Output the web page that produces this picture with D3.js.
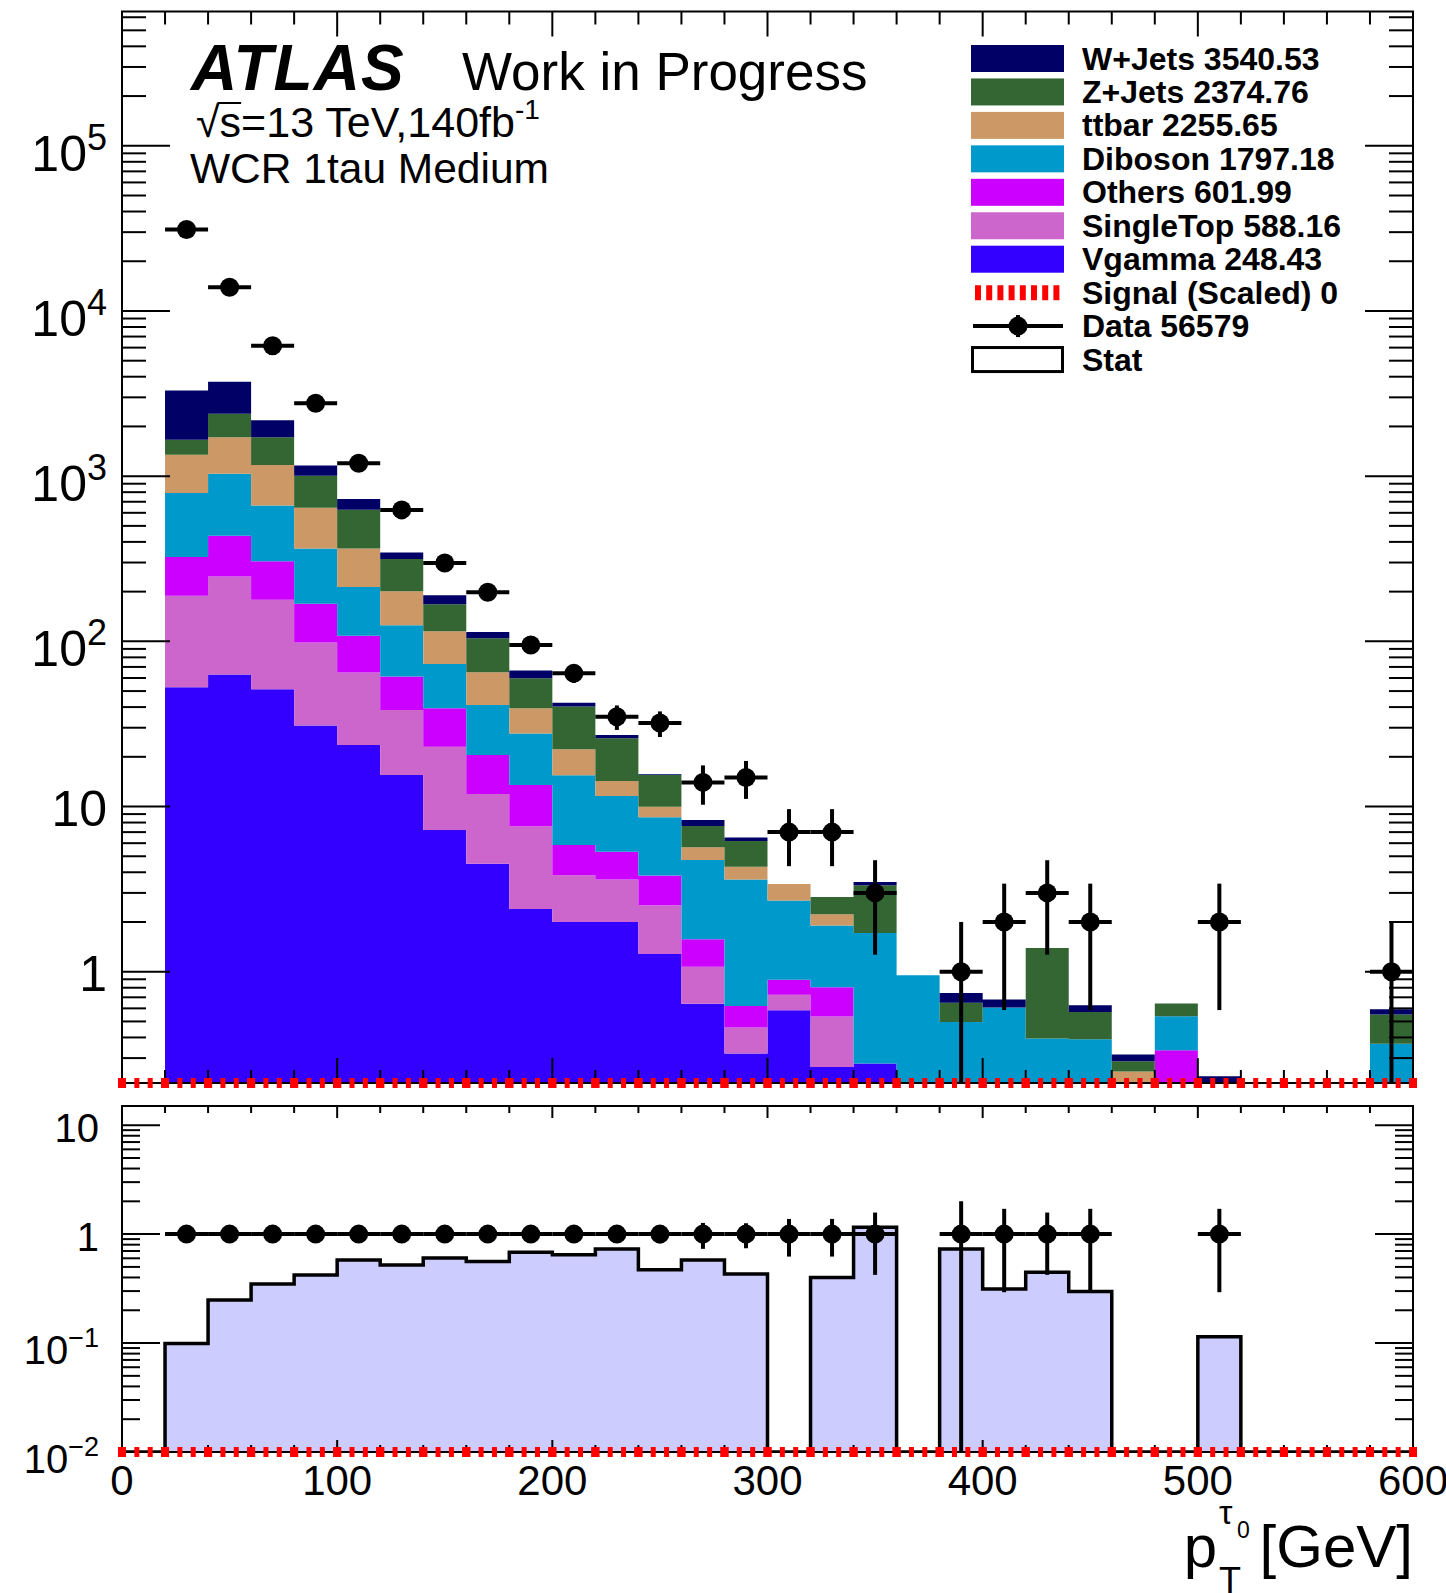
<!DOCTYPE html>
<html>
<head>
<meta charset="utf-8">
<script src="https://cdn.jsdelivr.net/npm/d3@7"></script>
<style>
  html, body { margin: 0; padding: 0; background: #ffffff; }
  svg { display: block; }
  text { font-family: "Liberation Sans", Arial, Helvetica, sans-serif; fill: #000; }
</style>
</head>
<body>
<svg id="plot" width="1446" height="1593"></svg>
<script>
// ---- binning: 20 GeV bins of tau pT, lower edges ----
const binLow = [0, 20, 40, 60, 80, 100, 120, 140, 160, 180, 200, 220, 240, 260, 280,
                300, 320, 340, 360, 380, 400, 420, 440, 460, 480, 500, 520, 540, 560, 580];
const binWidth = 20;

// ---- background yields per bin (events) ----
const vgamma    = [0, 52.8, 62.9, 51.3, 30.9, 23.6, 15.5, 7.2, 4.5, 2.4, 2.0, 2.0, 1.28, 0.64, 0.32,
                   0.585, 0.265, 0.278, 0, 0, 0, 0, 0, 0, 0, 0, 0, 0, 0, 0];
const singleTop = [0, 136, 184, 127, 67.5, 41.1, 22.9, 15.8, 7.4, 5.2, 1.84, 1.62, 1.25, 0.43, 0.14,
                   0.14, 0.27, 0, 0, 0, 0, 0, 0, 0, 0, 0, 0, 0, 0, 0];
const others    = [0, 135, 189, 127, 70.6, 43.3, 22.8, 16.4, 8.6, 5.9, 2.0, 1.7, 1.3, 0.5, 0.16,
                   0.17, 0.27, 0, 0, 0, 0, 0, 0, 0, 0.335, 0, 0, 0, 0, 0];
const diboson   = [0, 467, 599, 359, 196, 105, 63.8, 33.6, 20.7, 14.2, 9.65, 6.27, 4.77, 3.17, 3.0,
                   1.8, 1.1, 1.44, 0.952, 0.497, 0.607, 0.394, 0.39, 0, 0.203, 0, 0, 0, 0, 0.367];
const ttbar     = [0, 559, 684, 504, 279, 152, 76, 42, 23.8, 11.6, 6.7, 2.7, 1.37, 0.92, 0.7,
                   0.7, 0.32, 0, 0, 0, 0, 0, 0, 0.249, 0, 0, 0, 0, 0, 0];
const zjets     = [0, 314, 664, 550, 363, 262, 114, 53, 39.5, 20.5, 18.1, 11.6, 5.53, 1.96, 1.86,
                   0, 0.61, 1.62, 0, 0.151, 0, 1.0, 0.181, 0.038, 0.103, 0, 0, 0, 0, 0.183];
const wjets     = [0, 1633, 1341, 460, 155, 100, 30, 22, 9.5, 6.7, 2.2, 1.2, 0.2, 0.66, 0.32,
                   0, 0, 0.16, 0, 0.096, 0.071, 0, 0.056, 0.028, 0, 0.233, 0, 0, 0, 0.043];
const signal    = [0, 0, 0, 0, 0, 0, 0, 0, 0, 0, 0, 0, 0, 0, 0,
                   0, 0, 0, 0, 0, 0, 0, 0, 0, 0, 0, 0, 0, 0, 0];

// ---- observed events per bin ----
const dataCounts = [0, 31150, 13914, 6155, 2760, 1196, 625, 298, 198, 95, 64, 35, 32, 14, 15,
                    7, 7, 3, 0, 1, 2, 3, 2, 0, 0, 2, 0, 0, 0, 1];

// ---- lower panel: prediction / data and data / data ----
const ratioMC   = [null, 0.099, 0.248, 0.348, 0.421, 0.578, 0.520, 0.604, 0.562, 0.68, 0.648, 0.731, 0.471, 0.578, 0.430,
                   null, 0.40, 1.155, null, 0.73, 0.313, 0.446, 0.298, null, null, 0.114, null, null, null, null];
const ratioData = [null, 1, 1, 1, 1, 1, 1, 1, 1, 1, 1, 1, 1, 1, 1,
                   1, 1, 1, null, 1, 1, 1, 1, null, null, 1, null, null, null, null];

// ---- axis tick labels ----
const xTickLabels = [0, 100, 200, 300, 400, 500, 600];
const mainYLabels = [{v: 1, base: "1", exp: null}, {v: 10, base: "10", exp: null},
                     {v: 1e2, base: "10", exp: "2"}, {v: 1e3, base: "10", exp: "3"},
                     {v: 1e4, base: "10", exp: "4"}, {v: 1e5, base: "10", exp: "5"}];
const ratioYLabels = [{v: 10, base: "10", exp: null}, {v: 1, base: "1", exp: null},
                      {v: 0.1, base: "10", exp: "\u22121"}, {v: 0.01, base: "10", exp: "\u22122"}];

// ---- legend entries (top to bottom) ----
const stackKeys = ["Vgamma", "SingleTop", "Others", "Diboson", "ttbar", "Z+Jets", "W+Jets"];
const sampleValues = {"Vgamma": vgamma, "SingleTop": singleTop, "Others": others, "Diboson": diboson,
                      "ttbar": ttbar, "Z+Jets": zjets, "W+Jets": wjets};
const legendTexts = ["W+Jets 3540.53", "Z+Jets 2374.76", "ttbar 2255.65", "Diboson 1797.18",
                     "Others 601.99", "SingleTop 588.16", "Vgamma 248.43", "Signal (Scaled) 0",
                     "Data 56579", "Stat"];
const legendKeys = ["W+Jets", "Z+Jets", "ttbar", "Diboson", "Others", "SingleTop", "Vgamma", "signal", "data", "stat"];

// ---- styles ----
const colors = {
  "W+Jets": "#000066", "Z+Jets": "#336633", "ttbar": "#cc9966", "Diboson": "#0099cc",
  "Others": "#cc00ff", "SingleTop": "#cc66cc", "Vgamma": "#3300ff"
};
const ratioFill = "#ccccff";
const signalColor = "#ff0000";

// ---- layout ----
const frameL = 122, frameR = 1413;
const mainTop = 11.5, mainBot = 1083;
const ratTop = 1106, ratBot = 1452;

const svg = d3.select("#plot");

const x = d3.scaleLinear().domain([0, 600]).range([frameL, frameR]);
const yMain = d3.scaleLog().domain([0.212, 6.5e5]).range([mainBot, mainTop]);
const yRat = d3.scaleLog().domain([0.01, 15]).range([ratBot, ratTop]);

function ySafe(scale, v) {
  const d0 = scale.domain()[0];
  return (v == null || v <= d0) ? scale.range()[0] : scale(v);
}

const defs = svg.append("defs");
defs.append("clipPath").attr("id", "clipMain").append("rect")
  .attr("x", frameL).attr("y", mainTop).attr("width", frameR - frameL).attr("height", mainBot - mainTop);
defs.append("clipPath").attr("id", "clipRat").append("rect")
  .attr("x", frameL).attr("y", ratTop).attr("width", frameR - frameL).attr("height", ratBot - ratTop);

// step-shaped area through all bins (one path, no seams between bins)
const stepArea = d3.area().x(d => d.x).y0(d => d.y0).y1(d => d.y1);
function stepPoints(lows, lowerFn, upperFn) {
  const pts = [];
  lows.forEach((lo, i) => {
    const y0 = lowerFn(i), y1 = Math.min(upperFn(i), y0);
    pts.push({x: x(lo), y0: y0, y1: y1});
    pts.push({x: x(lo + binWidth), y0: y0, y1: y1});
  });
  return pts;
}

// ================= main panel: stacked backgrounds =================
const rows = binLow.map((lo, i) => {
  const r = {lo: lo};
  stackKeys.forEach(k => { r[k] = sampleValues[k][i]; });
  return r;
});
const stacked = d3.stack().keys(stackKeys)(rows);

const gStack = svg.append("g").attr("clip-path", "url(#clipMain)");
stacked.forEach(layer => {
  const pts = stepPoints(binLow,
    i => ySafe(yMain, layer[i][0]),
    i => ySafe(yMain, layer[i][1]));
  gStack.append("path")
    .attr("d", stepArea(pts))
    .attr("fill", colors[layer.key]);
});

// ================= lower panel: ratio histogram =================
const gRat = svg.append("g").attr("clip-path", "url(#clipRat)");
gRat.append("path")
  .attr("d", stepArea(stepPoints(binLow, i => ratBot, i => ySafe(yRat, ratioMC[i]))))
  .attr("fill", ratioFill);

// outline as a step line over the full axis range
const stepPts = [[x(0), ratBot]];
binLow.forEach((lo, i) => {
  const yy = ySafe(yRat, ratioMC[i]);
  stepPts.push([x(lo), yy]);
  stepPts.push([x(lo + binWidth), yy]);
});
stepPts.push([x(600), ratBot]);
gRat.append("path")
  .attr("d", d3.line()(stepPts))
  .attr("fill", "none").attr("stroke", "#000").attr("stroke-width", 3.5)
  .attr("stroke-linejoin", "miter");

// ================= frames and axes =================
function frame(top, bot) {
  svg.append("rect").attr("x", frameL).attr("y", top)
    .attr("width", frameR - frameL).attr("height", bot - top)
    .attr("fill", "none").attr("stroke", "#000").attr("stroke-width", 2);
}
frame(mainTop, mainBot);
frame(ratTop, ratBot);

function xTicks(top, bot, majLen, minLen) {
  const g = svg.append("g").attr("stroke", "#000").attr("stroke-width", 2);
  d3.range(0, 601, 20).forEach(t => {
    const len = (t % 100 === 0) ? majLen : minLen;
    const px = x(t);
    g.append("line").attr("x1", px).attr("x2", px).attr("y1", top).attr("y2", top + len);
    g.append("line").attr("x1", px).attr("x2", px).attr("y1", bot).attr("y2", bot - len);
  });
}
xTicks(mainTop, mainBot, 25, 13);
xTicks(ratTop, ratBot, 12, 7);

function yTicks(scale, majLen, minLen) {
  const g = svg.append("g").attr("stroke", "#000").attr("stroke-width", 2);
  scale.ticks().forEach(t => {
    const lg = Math.log10(t);
    const major = Math.abs(lg - Math.round(lg)) < 1e-6;
    const len = major ? majLen : minLen;
    const py = scale(t);
    g.append("line").attr("x1", frameL).attr("x2", frameL + len).attr("y1", py).attr("y2", py);
    g.append("line").attr("x1", frameR).attr("x2", frameR - len).attr("y1", py).attr("y2", py);
  });
}
yTicks(yMain, 48, 24);
yTicks(yRat, 38, 18);

function yLabels(list, scale, xr, size, supSize, supDy, offPlain, offExp) {
  list.forEach(L => {
    const t = svg.append("text")
      .attr("x", xr)
      .attr("y", scale(L.v) + (L.exp ? offExp : offPlain))
      .attr("text-anchor", "end")
      .attr("font-size", size)
      .text(L.base);
    if (L.exp) {
      t.append("tspan").attr("font-size", supSize).attr("dy", supDy).text(L.exp);
    }
  });
}
yLabels(mainYLabels, yMain, 107, 50, 36, -21, 19, 25);
yLabels(ratioYLabels, yRat, 99, 40, 27, -17, 17, 21);

svg.append("g").selectAll("text")
  .data(xTickLabels).join("text")
  .attr("x", d => x(d)).attr("y", 1495)
  .attr("text-anchor", "middle").attr("font-size", 42)
  .text(d => d);

// ================= signal (scaled), drawn at zero =================
function signalLine(scale) {
  const g = svg.append("g");
  binLow.forEach((lo, i) => {
    const x0 = x(lo), x1 = x(lo + binWidth), w = x1 - x0;
    const gap = (w - 18) / 3;
    g.append("line")
      .attr("x1", x0 - 4).attr("x2", x1 + 4)
      .attr("y1", ySafe(scale, signal[i])).attr("y2", ySafe(scale, signal[i]))
      .attr("stroke", signalColor).attr("stroke-width", 10)
      .attr("stroke-dasharray", `8 ${gap} 5 ${gap} 5 ${gap} 8 1000`);
  });
}
signalLine(yMain);
signalLine(yRat);

// ================= data points =================
function drawPoints(scale, clipId, pts) {
  const g = svg.append("g").attr("clip-path", `url(#${clipId})`);
  pts.forEach(p => {
    const cx = x(p.lo + binWidth / 2);
    g.append("line").attr("x1", x(p.lo)).attr("x2", x(p.lo + binWidth))
      .attr("y1", scale(p.v)).attr("y2", scale(p.v))
      .attr("stroke", "#000").attr("stroke-width", 4);
    g.append("line").attr("x1", cx).attr("x2", cx)
      .attr("y1", scale(p.v + p.e)).attr("y2", ySafe(scale, p.v - p.e))
      .attr("stroke", "#000").attr("stroke-width", 4);
    g.append("circle").attr("cx", cx).attr("cy", scale(p.v)).attr("r", 9.5).attr("fill", "#000");
  });
}
drawPoints(yMain, "clipMain",
  binLow.map((lo, i) => ({lo: lo, v: dataCounts[i], e: Math.sqrt(dataCounts[i])}))
        .filter(p => p.v > 0));
drawPoints(yRat, "clipRat",
  binLow.map((lo, i) => ({lo: lo, v: ratioData[i], e: dataCounts[i] > 0 ? 1 / Math.sqrt(dataCounts[i]) : 0}))
        .filter(p => p.v != null));

// ================= legend =================
const legX0 = 971, legX1 = 1064, legTextX = 1082;
legendKeys.forEach((k, i) => {
  const cy = 58.5 + i * 33.45;
  if (colors[k]) {
    svg.append("rect").attr("x", legX0).attr("y", cy - 13.5)
      .attr("width", legX1 - legX0).attr("height", 27).attr("fill", colors[k]);
  } else if (k === "signal") {
    svg.append("line").attr("x1", legX0 + 4).attr("x2", legX1).attr("y1", cy).attr("y2", cy)
      .attr("stroke", signalColor).attr("stroke-width", 15).attr("stroke-dasharray", "6 5.2");
  } else if (k === "data") {
    svg.append("line").attr("x1", legX0 + 2).attr("x2", legX1 - 1).attr("y1", cy).attr("y2", cy)
      .attr("stroke", "#000").attr("stroke-width", 4);
    svg.append("line").attr("x1", 1018).attr("x2", 1018).attr("y1", cy - 11).attr("y2", cy + 11)
      .attr("stroke", "#000").attr("stroke-width", 4);
    svg.append("circle").attr("cx", 1018).attr("cy", cy).attr("r", 9.5).attr("fill", "#000");
  } else if (k === "stat") {
    svg.append("rect").attr("x", legX0 + 1.5).attr("y", cy - 12)
      .attr("width", legX1 - legX0 - 3).attr("height", 24)
      .attr("fill", "#fff").attr("stroke", "#000").attr("stroke-width", 3);
  }
  svg.append("text").attr("x", legTextX).attr("y", cy + 11)
    .attr("font-size", 32).attr("font-weight", "bold")
    .text(legendTexts[i]);
});

// ================= labels =================
svg.append("text").attr("x", 191).attr("y", 89.5)
  .attr("font-size", 64).attr("font-weight", "bold").attr("font-style", "italic")
  .attr("letter-spacing", 1)
  .text("ATLAS");
svg.append("text").attr("x", 462).attr("y", 89.5)
  .attr("font-size", 53).text("Work in Progress");

const sq = svg.append("text").attr("x", 196).attr("y", 137).attr("font-size", 43);
sq.append("tspan").text("\u221A");
sq.append("tspan").text("s=13 TeV,140fb");
sq.append("tspan").attr("font-size", 28).attr("dy", -18).text("-1");
{
  const node = sq.node();
  const rootW = node.getSubStringLength(0, 1);
  const sW = node.getSubStringLength(1, 1);
  svg.append("line").attr("x1", 196 + rootW - 2).attr("x2", 196 + rootW + sW)
    .attr("y1", 103).attr("y2", 103).attr("stroke", "#000").attr("stroke-width", 2);
}

svg.append("text").attr("x", 190).attr("y", 183)
  .attr("font-size", 42.5).text("WCR 1tau Medium");

// x-axis title: p_T^{tau_0} [GeV]
svg.append("text").attr("x", frameR).attr("y", 1567).attr("text-anchor", "end")
  .attr("font-size", 60).text("[GeV]");
svg.append("text").attr("x", 1217).attr("y", 1567).attr("text-anchor", "end")
  .attr("font-size", 60).text("p");
svg.append("text").attr("x", 1219).attr("y", 1524).attr("font-size", 34).text("\u03C4");
svg.append("text").attr("x", 1237).attr("y", 1538).attr("font-size", 23).text("0");
svg.append("text").attr("x", 1219).attr("y", 1593).attr("font-size", 36).text("T");
</script>
</body>
</html>
